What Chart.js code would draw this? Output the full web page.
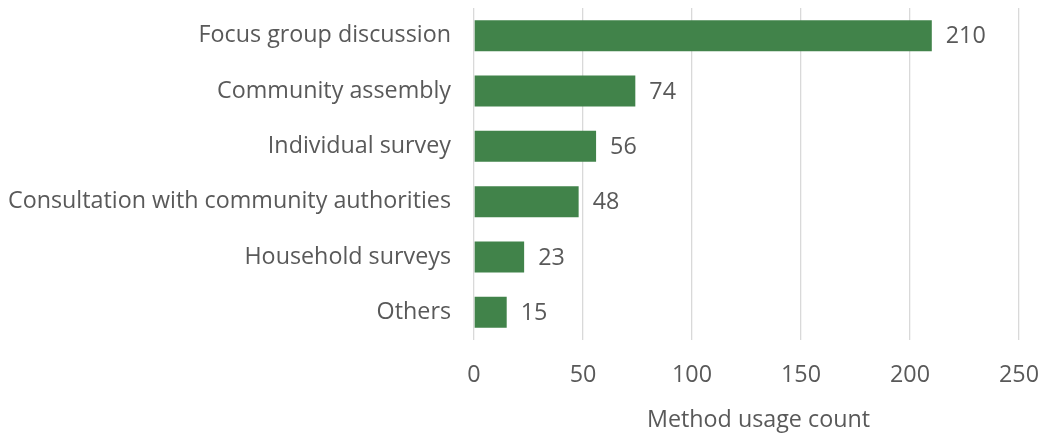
<!DOCTYPE html>
<html>
<head>
<meta charset="utf-8">
<script src="https://cdn.jsdelivr.net/npm/chart.js@4"></script>
<style>
  html, body { margin: 0; padding: 0; background: #fff; }
  #wrap { width: 1043px; height: 437px; }
</style>
</head>
<body>
<div id="wrap"><canvas id="methodChart"></canvas></div>
<script>
const methods = [
    'Focus group discussion',
    'Community assembly',
    'Individual survey',
    'Consultation with community authorities',
    'Household surveys',
    'Others'
];
const usageCounts = [210, 74, 56, 48, 23, 15];
const xTicks = [0, 50, 100, 150, 200, 250];
const xTitle = 'Method usage count';

const textColor = '#595959';
const fontSize = 23.3;

// value labels past the end of each bar + the x axis title
// (title is centred between plot left edge and canvas right edge, like the original)
const valueLabels = {
    id: 'valueLabels',
    afterDatasetsDraw(chart) {
        const ctx = chart.ctx;
        const meta = chart.getDatasetMeta(0);
        ctx.save();
        ctx.font = fontSize + 'px "Open Sans"';
        ctx.fillStyle = textColor;
        ctx.textBaseline = 'middle';
        ctx.textAlign = 'left';
        meta.data.forEach((bar, i) => {
            ctx.fillText(String(usageCounts[i]), bar.x + 14, bar.y + 1);
        });
        ctx.textAlign = 'center';
        ctx.fillText(xTitle, (chart.chartArea.left + chart.width) / 2, chart.height - 17);
        ctx.restore();
    }
};

const ctx = document.getElementById('methodChart').getContext('2d');
const methodChart = new Chart(ctx, {
    type: 'bar',
    data: {
        labels: methods,
        datasets: [{
            label: xTitle,
            data: usageCounts,
            backgroundColor: '#41834a',
            borderWidth: 0,
            categoryPercentage: 1,
            barPercentage: 0.56
        }]
    },
    options: {
        indexAxis: 'y',
        responsive: true,
        maintainAspectRatio: false,
        animation: false,
        layout: {
            padding: { top: 8, right: 24, left: 0, bottom: 0 }
        },
        plugins: {
            legend: { display: false },
            tooltip: { enabled: false }
        },
        scales: {
            x: {
                min: 0,
                max: 250,
                afterBuildTicks: axis => {
                    axis.ticks = xTicks.map(v => ({ value: v }));
                },
                // fixed axis box, and don't let tick padding eat into the chart area
                afterFit: axis => {
                    axis.height = 97;
                    axis.paddingLeft = 0;
                    axis.paddingRight = 0;
                },
                grid: {
                    color: '#d9d9d9',
                    lineWidth: 1.3,
                    drawTicks: false
                },
                border: { display: false },
                ticks: {
                    padding: 21,
                    color: textColor,
                    font: { family: 'Open Sans', size: fontSize }
                },
                title: { display: false }
            },
            y: {
                grid: { display: false, drawTicks: false },
                border: { display: false },
                afterFit: axis => {
                    axis.width = 474;
                    axis.paddingTop = 0;
                    axis.paddingBottom = 0;
                },
                ticks: {
                    padding: 23,
                    color: textColor,
                    font: { family: 'Open Sans', size: fontSize }
                }
            }
        }
    },
    plugins: [valueLabels]
});
</script>
</body>
</html>
